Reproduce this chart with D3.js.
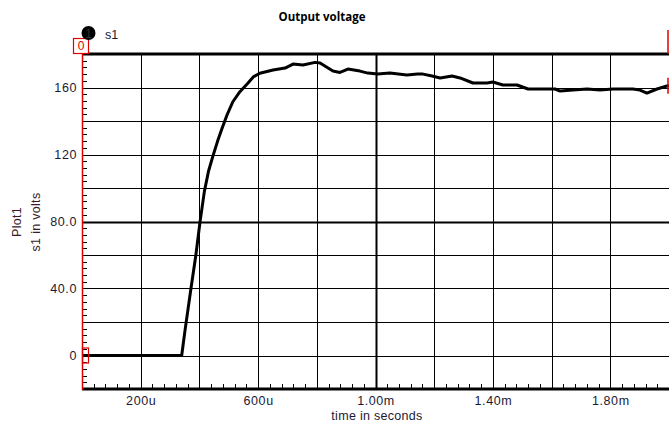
<!DOCTYPE html>
<html><head><meta charset="utf-8">
<script src="https://cdn.jsdelivr.net/npm/d3@7/dist/d3.min.js"></script>
<style>body{margin:0;background:#fff}svg{display:block}</style>
</head><body>
<svg id="c" width="669" height="425"></svg>
<script>
// time (seconds)
const times = [0, 0.0003397, 0.000351, 0.000370, 0.000388, 0.000402, 0.000417, 0.000431, 0.000446, 0.000462, 0.000477,
  0.000495, 0.000514, 0.000538, 0.000565, 0.000585, 0.000606, 0.000651, 0.000692, 0.000719, 0.000753, 0.000794, 0.000811,
  0.000855, 0.000879, 0.000906, 0.000947, 0.000974, 0.001008, 0.001049, 0.001107, 0.001143, 0.001162,
  0.001193, 0.001220, 0.001261, 0.001288, 0.001332, 0.001380, 0.001400, 0.001434, 0.001482, 0.001520,
  0.001571, 0.001612, 0.001629, 0.001673, 0.001721, 0.001765, 0.001809, 0.001877, 0.001901, 0.001925,
  0.001959, 0.001993, 0.002];
// s1 (volts)
const volts = [0, 0, 15, 38.5, 60, 79.6, 98, 110, 119, 128, 135.5,
  144, 151.5, 157.5, 162.5, 166.5, 168.5, 170.4, 171.6, 174, 173.4, 175, 174.6,
  169.8, 169, 171, 169.8, 168.6, 168, 168.6, 167.5, 168, 168,
  166.9, 165.7, 166.9, 165.7, 162.7, 162.7, 163.3, 161.5, 161.5, 159.1,
  159.1, 159.1, 157.9, 158.5, 159.1, 158.5, 159.1, 159.1, 158.5, 156.7,
  159.1, 160.9, 161];
const xTickLabels = ["200u", "600u", "1.00m", "1.40m", "1.80m"];
const xTickValues = [0.0002, 0.0006, 0.0010, 0.0014, 0.0018];
const yTickLabels = ["0", "40.0", "80.0", "120", "160"];
const yTickValues = [0, 40, 80, 120, 160];
const title = "Output voltage";

const svg = d3.select("#c");
const L = 82, R = 669, T = 54, B = 389;
const x = d3.scaleLinear().domain([0, 0.002]).range([L, R]);
const y = d3.scaleLinear().domain([-20, 180]).range([B, T]);
const font = "'Liberation Sans', Arial, sans-serif";
const txtCol = "#1a1a33";

// grid
const vGrid = d3.range(1, 10).map(i => i * 0.0002);
svg.append("g").selectAll("line").data(vGrid).join("line")
  .attr("x1", d => Math.round(x(d)) + 0.5).attr("x2", d => Math.round(x(d)) + 0.5)
  .attr("y1", T).attr("y2", B)
  .attr("stroke", "#000").attr("stroke-width", d => Math.abs(d - 0.001) < 1e-9 ? 2 : 1);
const hGrid = d3.range(0, 9).map(i => i * 20);
svg.append("g").selectAll("line").data(hGrid).join("line")
  .attr("x1", L).attr("x2", R)
  .attr("y1", d => Math.round(y(d)) + 0.5).attr("y2", d => Math.round(y(d)) + 0.5)
  .attr("stroke", "#000").attr("stroke-width", d => d === 80 ? 2 : 1);

// minor ticks
const yMinor = d3.range(-20, 181, 4);
svg.append("g").selectAll("line").data(yMinor).join("line")
  .attr("x1", L).attr("x2", L + 5)
  .attr("y1", d => Math.round(y(d)) + 0.5).attr("y2", d => Math.round(y(d)) + 0.5)
  .attr("stroke", "#000").attr("stroke-width", 1);
const xMinor = d3.range(0, 51).map(i => i * 0.00004);
svg.append("g").selectAll("line").data(xMinor).join("line")
  .attr("x1", d => Math.round(x(d)) + 0.5).attr("x2", d => Math.round(x(d)) + 0.5)
  .attr("y1", B).attr("y2", B - 5)
  .attr("stroke", "#000").attr("stroke-width", 1);

// borders
svg.append("line").attr("x1", L).attr("x2", R).attr("y1", T).attr("y2", T).attr("stroke", "#000").attr("stroke-width", 3);
svg.append("line").attr("x1", L).attr("x2", R).attr("y1", B).attr("y2", B).attr("stroke", "#000").attr("stroke-width", 3);
svg.append("line").attr("x1", L + 0.5).attr("x2", L + 0.5).attr("y1", 53).attr("y2", B + 1).attr("stroke", "#e00000").attr("stroke-width", 1.5);

// axes labels via d3 axis
const xAxis = d3.axisBottom(x).tickValues(xTickValues).tickFormat((d, i) => xTickLabels[i]).tickSize(0).tickPadding(6);
const gx = svg.append("g").attr("transform", `translate(0,${B + 1})`).call(xAxis);
gx.select(".domain").remove();
gx.selectAll("text").attr("font-family", font).attr("font-size", 12.5).attr("fill", txtCol).attr("letter-spacing", 0.6);

const yAxis = d3.axisLeft(y).tickValues(yTickValues).tickFormat((d, i) => yTickLabels[i]).tickSize(0).tickPadding(5);
const gy = svg.append("g").attr("transform", `translate(${L},0)`).call(yAxis);
gy.select(".domain").remove();
gy.selectAll("text").attr("font-family", font).attr("font-size", 12.5).attr("fill", txtCol).attr("letter-spacing", 0.6);

// curve
const line = d3.line().x((d, i) => x(times[i])).y(d => y(d)).curve(d3.curveLinear);
svg.append("path").datum(volts).attr("d", line)
  .attr("fill", "none").attr("stroke", "#000").attr("stroke-width", 3).attr("stroke-linejoin", "round");

// cursors
svg.append("rect").attr("x", 73.5).attr("y", 38.5).attr("width", 15).attr("height", 15)
  .attr("fill", "#fff").attr("stroke", "#e00000").attr("stroke-width", 1.2);
svg.append("text").attr("x", 81).attr("y", 50).attr("text-anchor", "middle")
  .attr("font-family", font).attr("font-size", 12).attr("fill", "#e00000").text("0");
svg.append("rect").attr("x", L + 0.5).attr("y", y(volts[0]) - 7.5).attr("width", 6).attr("height", 15)
  .attr("fill", "none").attr("stroke", "#e00000").attr("stroke-width", 1.2);
const xr = x(0.002) - 1;
svg.append("line").attr("x1", xr).attr("x2", xr).attr("y1", 30).attr("y2", T).attr("stroke", "#e00000").attr("stroke-width", 1.5);
svg.append("line").attr("x1", xr).attr("x2", xr).attr("y1", y(volts[volts.length - 1]) - 8).attr("y2", y(volts[volts.length - 1]) + 8).attr("stroke", "#e00000").attr("stroke-width", 1.5);

// legend
svg.append("circle").attr("cx", 88.5).attr("cy", 33).attr("r", 7).attr("fill", "#000");
svg.append("text").attr("x", 88.5).attr("y", 37.5).attr("text-anchor", "middle")
  .attr("font-family", font).attr("font-size", 12).attr("fill", "#333").text("1");
svg.append("text").attr("x", 105).attr("y", 38.5)
  .attr("font-family", font).attr("font-size", 12.5).attr("fill", txtCol).text("s1");

// title
svg.append("text").attr("x", 322).attr("y", 21).attr("text-anchor", "middle")
  .attr("font-family", "'Open Sans', 'Noto Sans', sans-serif").attr("font-weight", "bold")
  .attr("font-size", 11.5).attr("fill", "#000").text(title);

// axis titles
svg.append("text").attr("x", 377).attr("y", 420).attr("text-anchor", "middle")
  .attr("font-family", font).attr("font-size", 12.5).attr("fill", txtCol).attr("letter-spacing", 0.3).text("time in seconds");
svg.append("text").attr("transform", "translate(21,222) rotate(-90)").attr("text-anchor", "middle")
  .attr("font-family", font).attr("font-size", 12.5).attr("fill", "#3a1a2a").attr("letter-spacing", 0.3).text("Plot1");
svg.append("text").attr("transform", "translate(40,222) rotate(-90)").attr("text-anchor", "middle")
  .attr("font-family", font).attr("font-size", 12.5).attr("fill", "#3a1a2a").attr("letter-spacing", 0.3).text("s1 in volts");
</script>
</body></html>
